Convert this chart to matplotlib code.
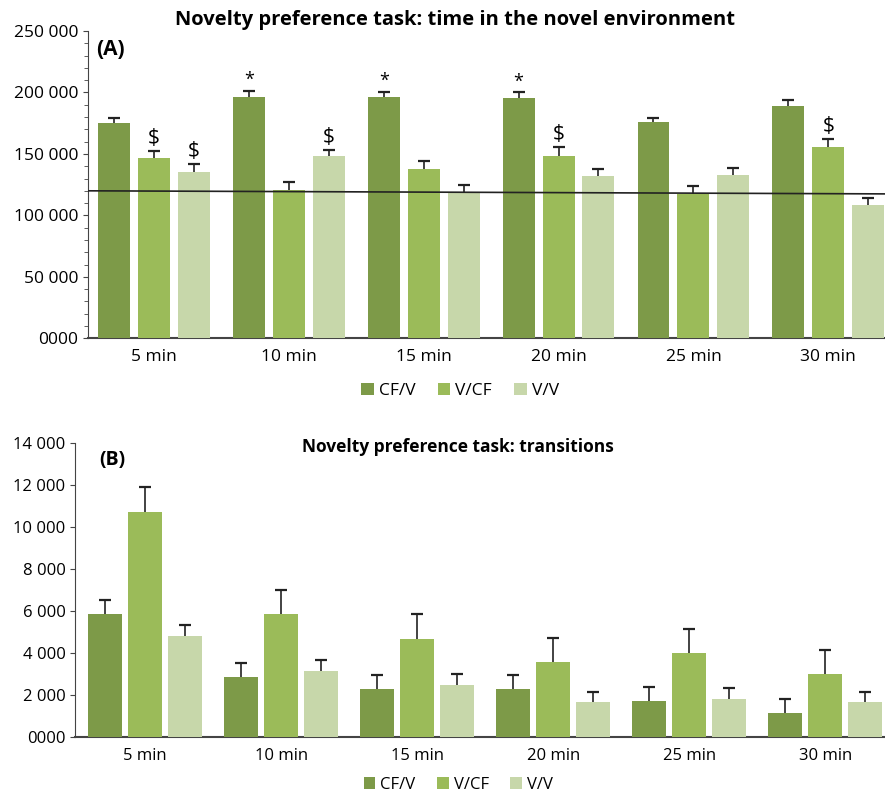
import matplotlib
matplotlib.use('Agg')
import matplotlib.pyplot as plt
from matplotlib.ticker import FuncFormatter, MultipleLocator
import numpy as np

plt.rcParams['font.family'] = ['Open Sans', 'DejaVu Sans']

# ---------- Data ----------
times = ['5 min', '10 min', '15 min', '20 min', '25 min', '30 min']
groups = ['CF/V', 'V/CF', 'V/V']

# (A) time in the novel environment
time_cfv = [175000, 196700, 196400, 195600, 175600, 189400]
time_vcf = [146300, 121000, 138100, 148700, 117500, 156000]
time_vv = [135700, 148400, 118600, 132100, 132900, 108800]
time_cfv_err = [4600, 4500, 4300, 4600, 4000, 4600]
time_vcf_err = [6200, 5900, 6200, 6700, 6200, 6500]
time_vv_err = [5900, 5200, 6500, 5400, 5700, 5400]
ref_line = [120000, 117500]  # reference line, left -> right

# significance marks: (time index, group index, symbol)
marks_a = [(1, 0, '*'), (2, 0, '*'), (3, 0, '*'),
           (0, 1, '$'), (3, 1, '$'), (5, 1, '$'),
           (0, 2, '$'), (1, 2, '$')]

# (B) transitions
tr_cfv = [5850, 2850, 2280, 2280, 1700, 1130]
tr_vcf = [10730, 5840, 4690, 3560, 3980, 2990]
tr_vv = [4830, 3150, 2490, 1650, 1830, 1650]
tr_cfv_err = [670, 690, 680, 680, 680, 680]
tr_vcf_err = [1190, 1160, 1170, 1160, 1150, 1150]
tr_vv_err = [490, 520, 510, 520, 500, 520]

colors = ['#7D9A48', '#9BBB59', '#C7D7AA']


def fmt(v, pos):
    if v == 0:
        return '0000'
    return f'{int(v):,}'.replace(',', ' ')


def draw(ax, series, errs, width, pitch, tick_fs):
    x = np.arange(len(times))
    for k, (vals, err) in enumerate(zip(series, errs)):
        xs = x + (k - 1) * pitch
        vals = np.array(vals)
        tops = vals + np.array(err)
        ax.bar(xs, vals, width, color=colors[k], label=groups[k], zorder=3)
        # upper-only error bars with a cap at the top
        ax.vlines(xs, vals, tops, color='#222222', linewidth=1.2, zorder=4)
        ax.plot(xs, tops, linestyle='none', marker='_', markersize=8,
                markeredgewidth=1.6, color='#222222', zorder=4)
    ax.set_xticks(x)
    ax.set_xticklabels(times, fontsize=tick_fs)
    ax.tick_params(axis='x', length=0, pad=8)
    ax.tick_params(axis='y', labelsize=tick_fs, direction='out', color='#444444')
    ax.yaxis.set_major_formatter(FuncFormatter(fmt))
    ax.spines['top'].set_visible(False)
    ax.spines['right'].set_visible(False)
    ax.spines['left'].set_color('#444444')
    ax.spines['bottom'].set_color('#444444')
    ax.spines['bottom'].set_linewidth(1.5)
    return x


fig = plt.figure(figsize=(8.85, 7.96), dpi=100)

# ---------- Panel A ----------
axA = fig.add_axes([0.0994, 0.575, 0.9006, 0.386])
pitch_a = 0.296
xa = draw(axA, [time_cfv, time_vcf, time_vv],
          [time_cfv_err, time_vcf_err, time_vv_err], 0.237, pitch_a, 12.5)
axA.set_xlim(-0.488, 5.42)
axA.set_ylim(0, 250000)
axA.yaxis.set_major_locator(MultipleLocator(50000))
axA.yaxis.set_minor_locator(MultipleLocator(10000))
axA.tick_params(axis='y', which='minor', length=3, color='#444444')
axA.plot(axA.get_xlim(), ref_line, color='#222222', linewidth=1.2, zorder=5)
series_a = [time_cfv, time_vcf, time_vv]
errs_a = [time_cfv_err, time_vcf_err, time_vv_err]
for i, g, s in marks_a:
    top = series_a[g][i] + errs_a[g][i]
    axA.text(xa[i] + (g - 1) * pitch_a, top + 1500, s, ha='center', va='bottom',
             fontsize=15 if s == '$' else 13)
axA.text(0.46, 1.035, 'Novelty preference task: time in the novel environment',
         transform=axA.transAxes, fontsize=14.5, fontweight='bold',
         ha='center', va='center')
axA.text(0.01, 0.975, '(A)', transform=axA.transAxes, fontsize=15,
         fontweight='bold', va='top')
axA.legend(loc='upper center', bbox_to_anchor=(0.467, -0.095), ncol=3,
           frameon=False, fontsize=12.5, handlelength=0.7, handleheight=0.7,
           handletextpad=0.3, columnspacing=1.3)

# ---------- Panel B ----------
axB = fig.add_axes([0.085, 0.074, 0.915, 0.3695])
pitch_b = 0.294
draw(axB, [tr_cfv, tr_vcf, tr_vv], [tr_cfv_err, tr_vcf_err, tr_vv_err],
     0.25, pitch_b, 12)
axB.set_xlim(-0.515, 5.44)
axB.set_ylim(0, 14000)
axB.yaxis.set_major_locator(MultipleLocator(2000))
axB.text(0.472, 0.985, 'Novelty preference task: transitions',
         transform=axB.transAxes, fontsize=12.5, fontweight='bold',
         ha='center', va='center')
axB.text(0.03, 0.975, '(B)', transform=axB.transAxes, fontsize=14,
         fontweight='bold', va='top')
axB.legend(loc='upper center', bbox_to_anchor=(0.473, -0.085), ncol=3,
           frameon=False, fontsize=12, handlelength=0.7, handleheight=0.7,
           handletextpad=0.3, columnspacing=1.3)

fig.savefig('out.png', dpi=100)
